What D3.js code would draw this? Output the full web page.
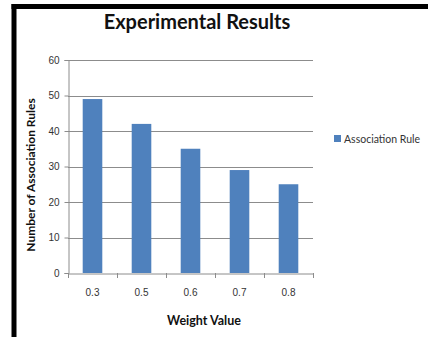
<!DOCTYPE html>
<html>
<head>
<meta charset="utf-8">
<script src="https://cdn.jsdelivr.net/npm/d3@7"></script>
<style>
  body { margin: 0; background: #fff; }
  svg { display: block; font-family: Lato, "Open Sans", sans-serif; }
</style>
</head>
<body>
<div id="chart"></div>
<script>
// Data for the chart
const weights = ["0.3", "0.5", "0.6", "0.7", "0.8"];
const ruleCounts = [49, 42, 35, 29, 25];
const yTicks = [0, 10, 20, 30, 40, 50, 60];
const seriesName = "Association Rule";

const width = 428;
const height = 337;
const margin = { top: 60, right: 115, bottom: 64, left: 68 };

const svg = d3.select("#chart")
    .append("svg")
    .attr("width", width)
    .attr("height", height);

// frame (thick black left / top edges)
svg.append("rect")
    .attr("x", 11.5).attr("y", 4)
    .attr("width", 5).attr("height", height - 4)
    .attr("fill", "#000");
svg.append("rect")
    .attr("x", 11.5).attr("y", 4)
    .attr("width", width - 11.5).attr("height", 5)
    .attr("fill", "#000");

// scales
const xScale = d3.scaleBand()
    .domain(weights)
    .range([margin.left, width - margin.right])
    .paddingInner(0.6)
    .paddingOuter(0.3);

const xBoundary = d3.scaleBand()
    .domain(weights)
    .range([margin.left, width - margin.right]);

const yScale = d3.scaleLinear()
    .domain([0, 60])
    .range([height - margin.bottom, margin.top]);

// gridlines
svg.append("g")
    .selectAll("line")
    .data(yTicks.filter(d => d > 0))
    .enter()
    .append("line")
    .attr("x1", margin.left)
    .attr("x2", width - margin.right)
    .attr("y1", d => Math.round(yScale(d)) + 0.5)
    .attr("y2", d => Math.round(yScale(d)) + 0.5)
    .attr("stroke", "#8c8c8c")
    .attr("stroke-width", 1);

// y axis
const yAxis = d3.axisLeft(yScale)
    .tickValues(yTicks)
    .tickSize(4)
    .tickPadding(5);

const gy = svg.append("g")
    .attr("transform", `translate(${margin.left + 0.5},0)`)
    .call(yAxis);
gy.select(".domain").attr("stroke", "#8c8c8c");
gy.selectAll(".tick line").attr("stroke", "#8c8c8c");
gy.selectAll("text")
    .attr("fill", "#333")
    .style("font-size", "10px");

// bars
svg.selectAll("rect.bar")
    .data(ruleCounts)
    .enter()
    .append("rect")
    .attr("class", "bar")
    .attr("x", (d, i) => xScale(weights[i]))
    .attr("y", d => yScale(d))
    .attr("width", xScale.bandwidth())
    .attr("height", d => yScale(0) - yScale(d))
    .attr("fill", "#4f81bd");

// x axis
const xAxis = d3.axisBottom(xScale)
    .tickSize(0)
    .tickPadding(15);

const gx = svg.append("g")
    .attr("transform", `translate(0,${Math.round(yScale(0)) + 0.5})`)
    .call(xAxis);
gx.select(".domain").attr("stroke", "#8c8c8c");
gx.selectAll("text")
    .attr("fill", "#333")
    .style("font-size", "10px");

// category boundary ticks
svg.append("g")
    .selectAll("line")
    .data(weights.map(w => xBoundary(w)).concat([width - margin.right]))
    .enter()
    .append("line")
    .attr("x1", d => Math.round(d) + 0.5)
    .attr("x2", d => Math.round(d) + 0.5)
    .attr("y1", Math.round(yScale(0)))
    .attr("y2", Math.round(yScale(0)) + 5)
    .attr("stroke", "#8c8c8c");

// title
svg.append("text")
    .attr("x", 197)
    .attr("y", 29)
    .attr("text-anchor", "middle")
    .style("font-size", "20px")
    .style("font-weight", "bold")
    .attr("fill", "#111")
    .text("Experimental Results");

// axis titles
svg.append("text")
    .attr("x", 204)
    .attr("y", 325)
    .attr("text-anchor", "middle")
    .style("font-size", "12.5px")
    .style("font-weight", "bold")
    .attr("fill", "#111")
    .text("Weight Value");

svg.append("text")
    .attr("transform", "rotate(-90)")
    .attr("x", -175)
    .attr("y", 35)
    .attr("text-anchor", "middle")
    .style("font-size", "12px")
    .style("font-weight", "bold")
    .attr("fill", "#111")
    .text("Number of Association Rules");

// legend
const legend = svg.append("g")
    .attr("transform", "translate(334,135)");

legend.append("rect")
    .attr("width", 7)
    .attr("height", 7)
    .attr("fill", "#4f81bd");

legend.append("text")
    .attr("x", 10)
    .attr("y", 4)
    .attr("dy", ".35em")
    .style("font-size", "10.5px")
    .attr("fill", "#333")
    .text(seriesName);
</script>
</body>
</html>
